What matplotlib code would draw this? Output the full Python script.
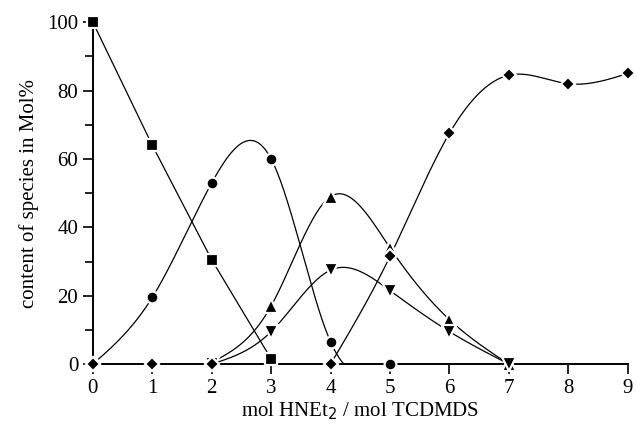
import numpy as np
import matplotlib
matplotlib.use('Agg')
import matplotlib.pyplot as plt

plt.rcParams['font.family'] = ['Liberation Serif', 'DejaVu Serif']

# data
sq_x = [0, 1, 2, 3]
sq_y = [100, 64, 30.5, 1.5]

ci_x = [0, 1, 2, 3, 4, 5]
ci_y = [0, 19.5, 53, 60, 6.5, 0]

tu_x = [2, 3, 4, 5, 6, 7]
tu_y = [0.5, 17, 49, 34, 13, 0]

td_x = [2, 3, 4, 5, 6, 7]
td_y = [0, 9.5, 27.5, 21.5, 9.5, 0]

di_x = [0, 1, 2, 4, 5, 6, 7, 8, 9]
di_y = [0, 0, 0, 0, 31.5, 67.5, 84.5, 82, 85]


### natural cubic spline, just for drawing the smooth connecting curves ###
def spline(xs, ys, n=300):
    xs = np.asarray(xs, float)
    ys = np.asarray(ys, float)
    k = len(xs)
    h = np.diff(xs)
    A = np.zeros((k, k))
    b = np.zeros(k)
    A[0, 0] = A[-1, -1] = 1
    for i in range(1, k - 1):
        A[i, i - 1] = h[i - 1]
        A[i, i] = 2 * (h[i - 1] + h[i])
        A[i, i + 1] = h[i]
        b[i] = 3 * ((ys[i + 1] - ys[i]) / h[i] - (ys[i] - ys[i - 1]) / h[i - 1])
    c = np.linalg.solve(A, b)
    xx = np.linspace(xs[0], xs[-1], n)
    idx = np.clip(np.searchsorted(xs, xx) - 1, 0, k - 2)
    dx = xx - xs[idx]
    bb = (ys[1:] - ys[:-1]) / h - h * (2 * c[:-1] + c[1:]) / 3
    dd = (c[1:] - c[:-1]) / (3 * h)
    yy = ys[idx] + bb[idx] * dx + c[idx] * dx ** 2 + dd[idx] * dx ** 3
    return xx, np.clip(yy, 0, None)


fig = plt.figure(figsize=(6.36, 4.44), dpi=100)
ax = fig.add_axes([0.146, 0.18, 0.841, 0.77])

lw = 0.9
mk = dict(color='black', linestyle='none', markeredgecolor='white', markeredgewidth=1.6,
          zorder=3, clip_on=False)

# connecting lines
ax.plot(sq_x, sq_y, color='black', lw=lw)
ax.plot(*spline(ci_x, ci_y), color='black', lw=lw)
ax.plot(*spline(tu_x, tu_y), color='black', lw=lw)
ax.plot(*spline(td_x, td_y), color='black', lw=lw)
ax.plot(*spline(di_x[3:], di_y[3:]), color='black', lw=lw)

# markers
ax.plot(sq_x, sq_y, marker='s', markersize=8, **mk)
ax.plot(ci_x, ci_y, marker='o', markersize=8.5, **mk)
ax.plot(tu_x, tu_y, marker='^', markersize=9.5, **mk)
ax.plot(td_x, td_y, marker='v', markersize=9.5, **mk)
ax.plot(di_x, di_y, marker='D', markersize=7, **mk)

ax.set_xlim(0, 9)
ax.set_ylim(0, 100)
ax.set_xticks(range(0, 10))
ax.set_yticks(range(0, 101, 20))
ax.set_yticks(range(10, 100, 20), minor=True)

for s in ['top', 'right']:
    ax.spines[s].set_visible(False)
for s in ['left', 'bottom']:
    ax.spines[s].set_linewidth(1.4)

ax.tick_params(axis='both', which='major', direction='out', length=7, width=1.2, labelsize=15)
ax.tick_params(axis='y', which='minor', direction='out', length=6, width=1.2)

ax.set_xlabel('mol HNEt$_2$ / mol TCDMDS', fontsize=15, labelpad=2)
ax.set_ylabel('content of species in Mol%', fontsize=15, labelpad=6)

fig.savefig('out.png', dpi=100)
